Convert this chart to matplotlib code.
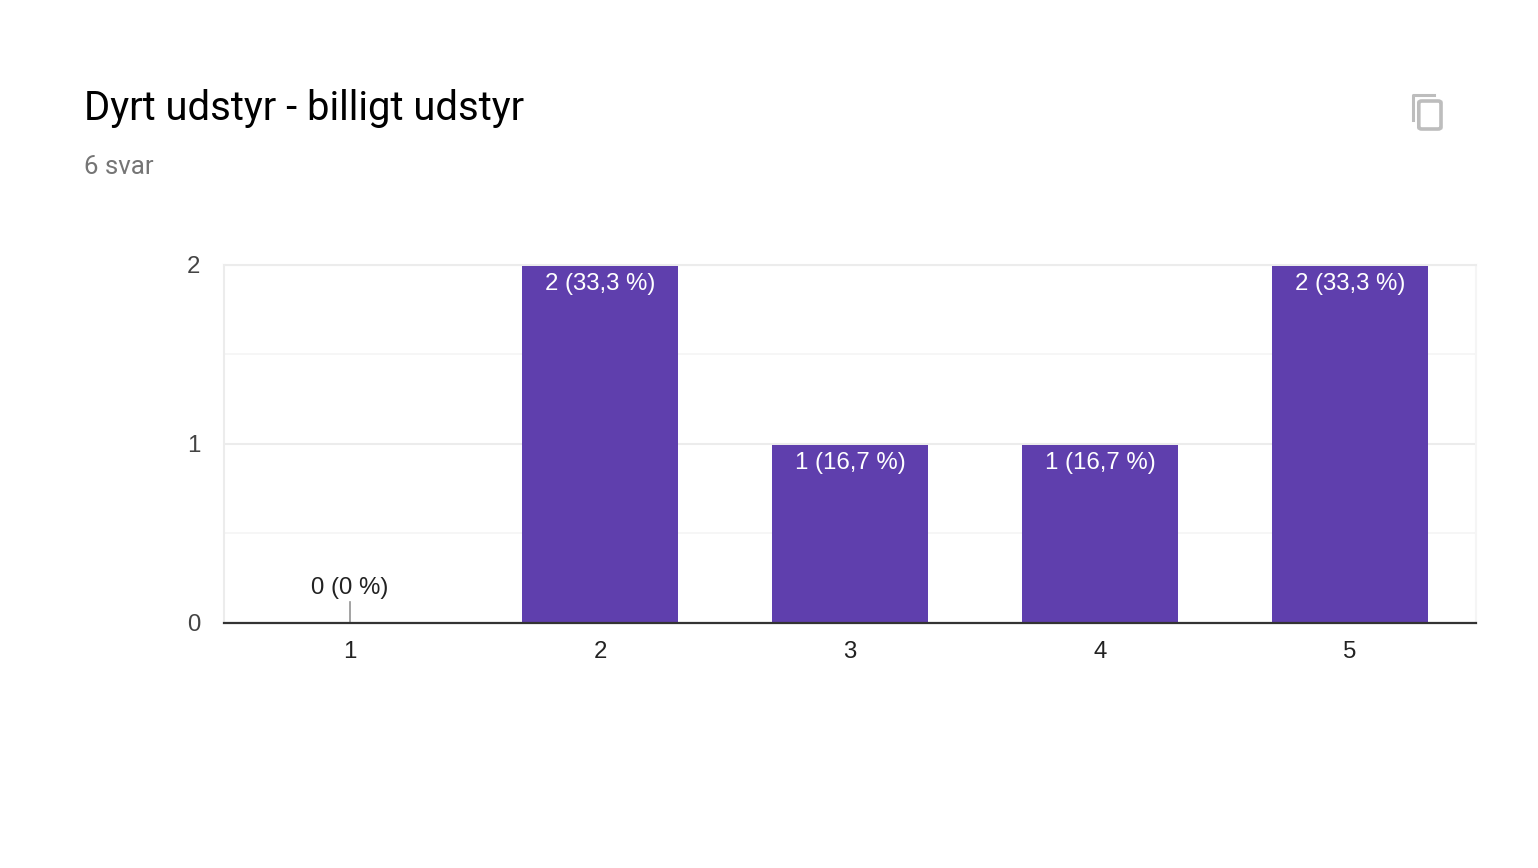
import matplotlib
matplotlib.use("Agg")
import matplotlib.pyplot as plt
from matplotlib.lines import Line2D
from matplotlib.patches import FancyBboxPatch
from matplotlib.transforms import Affine2D

W, H = 1538, 868

categories = [1, 2, 3, 4, 5]
counts = [0, 2, 1, 1, 2]
bar_labels = ['0 (0 %)', '2 (33,3 %)', '1 (16,7 %)', '1 (16,7 %)', '2 (33,3 %)']
y_ticks = [0, 1, 2]
y_minor = [0.5, 1.5]

PURPLE = '#5f3fad'
SANS = 'Liberation Sans'


def px(x, y):
    # picture pixels -> figure fraction
    return x / W, 1 - y / H


fig = plt.figure(figsize=(W / 100, H / 100), dpi=100)
ax = fig.add_axes([224 / W, 1 - 622.5 / H, (1476 - 224) / W, (622.5 - 264.5) / H])

bars = ax.bar(categories, counts, width=0.624, color=PURPLE, zorder=3)
ax.set_xlim(0.496, 5.504)
ax.set_ylim(0, 2)

# bars sit just under their gridline in the original
for b in bars:
    b.set_transform(ax.transData + Affine2D().translate(0, -1.3))

# grid
ax.set_yticks(y_ticks)
ax.set_yticks(y_minor, minor=True)
ax.grid(axis='y', which='major', color='#ececec', lw=1.5, zorder=0)
ax.grid(axis='y', which='minor', color='#f5f5f5', lw=1.2, zorder=0)
ax.set_xticks(categories)
ax.tick_params(axis='both', which='both', length=0)
ax.tick_params(axis='y', pad=17, labelsize=17.3, labelcolor='#444444')
ax.tick_params(axis='x', pad=13, labelsize=17.3, labelcolor='#222222')
for lab in ax.get_xticklabels() + ax.get_yticklabels():
    lab.set_fontfamily(SANS)

for side in ['right', 'top', 'left']:
    ax.spines[side].set_color('#ececec')
    ax.spines[side].set_linewidth(1.5)
ax.spines['right'].set_color('#f5f5f5')
ax.spines['bottom'].set_color('#333333')
ax.spines['bottom'].set_linewidth(1.6)
ax.spines['bottom'].set_zorder(5)

# value labels
for x, c, label in zip(categories, counts, bar_labels):
    if c > 0:
        ax.annotate(label, xy=(x, c), xytext=(0, -5.8), textcoords='offset points',
                    ha='center', va='top', color='white', fontsize=17.3,
                    family=SANS, zorder=4)
    else:
        ax.annotate(label, xy=(x, c), xytext=(0, 17), textcoords='offset points',
                    ha='center', va='bottom', color='#222222', fontsize=17.3,
                    family=SANS, zorder=4,
                    arrowprops=dict(arrowstyle='-', color='#8a8a8a', lw=1.1,
                                    shrinkA=0, shrinkB=0))

# header
fig.text(*px(84, 120), 'Dyrt udstyr - billigt udstyr', fontsize=28.85,
         family='Roboto', color='black', va='baseline', ha='left')
fig.text(*px(84, 174), '6 svar', fontsize=18.6, family='Roboto',
         color='#757575', va='baseline', ha='left')

# copy icon
icon = '#bdbdbd'
x0, y0 = px(1418.8, 129)
x1, y1 = px(1441, 101)
fig.add_artist(FancyBboxPatch((x0, y0), x1 - x0, y1 - y0,
                              boxstyle='round,pad=0,rounding_size=0.002',
                              transform=fig.transFigure, fill=False,
                              edgecolor=icon, lw=2.6))
xs, ys = zip(px(1413, 120), px(1413, 95), px(1434, 95))
fig.add_artist(Line2D(xs, ys, color=icon, lw=2.2, solid_joinstyle='round',
                      transform=fig.transFigure))

fig.savefig('out.png', dpi=100, facecolor='white')
